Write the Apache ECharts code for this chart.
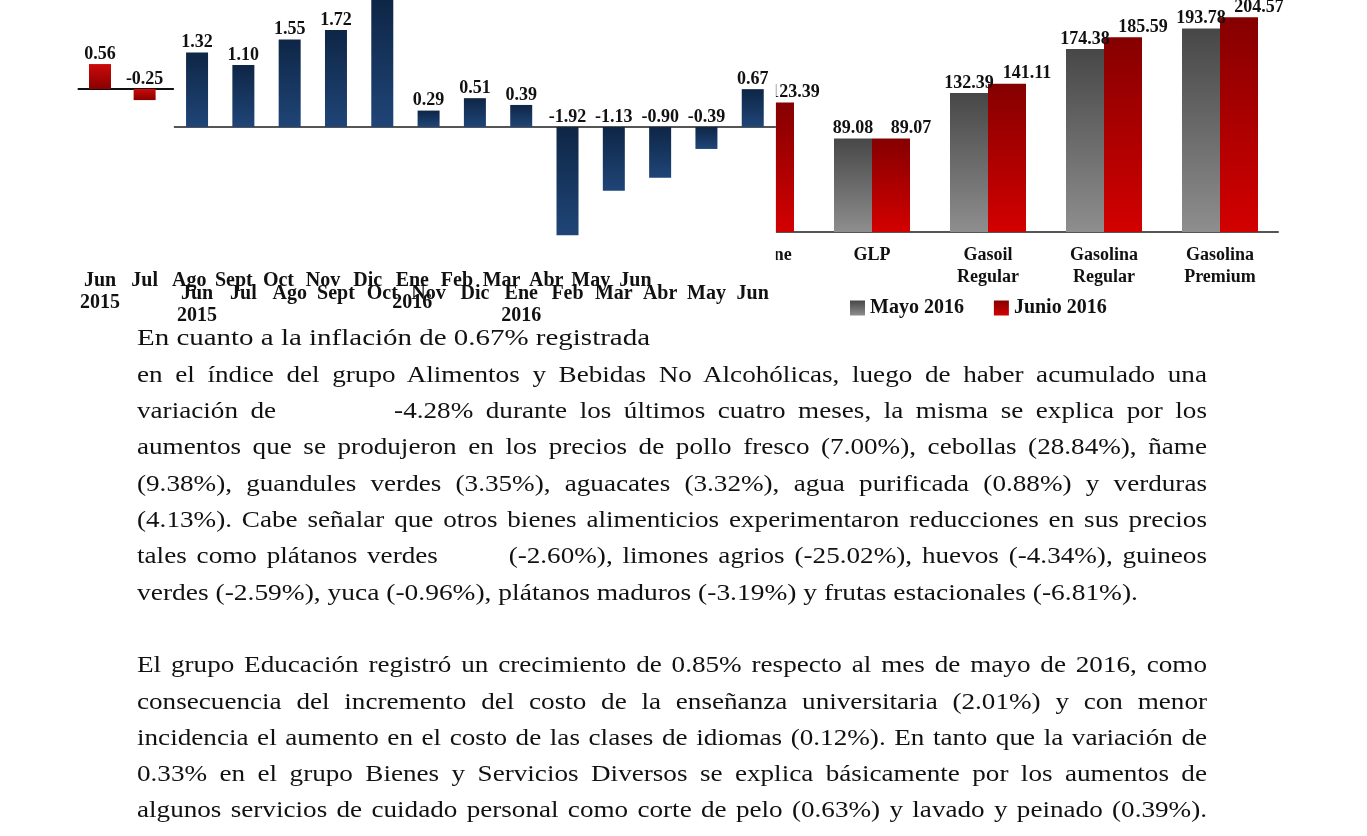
<!DOCTYPE html>
<html lang="es">
<head>
    <meta charset="UTF-8">
    <title>IPC junio 2016 - graficos</title>
    <script src="https://cdn.jsdelivr.net/npm/echarts@6/dist/echarts.min.js"></script>
    <style>
        html, body { margin: 0; padding: 0; background: #fff; }
        #main { width: 1367px; height: 836px; }
        .ln {
            position: absolute;
            left: 137px;
            white-space: nowrap;
            font-family: "Liberation Serif", "Times New Roman", serif;
            font-size: 23px;
            line-height: 26px;
            color: #111;
            transform-origin: left center;
        }
    </style>
</head>
<body>
    <div id="main"></div>
    <div id="texto"></div>
    <script>
        // meses (mismos para los dos graficos de variacion)
        var meses = ['Jun\n2015', 'Jul', 'Ago', 'Sept', 'Oct', 'Nov', 'Dic', 'Ene\n2016', 'Feb', 'Mar', 'Abr', 'May', 'Jun'];
        // grafico rojo de atras, solo se ven los dos primeros
        var variacionRoja = [0.56, -0.25, null, null, null, null, null, null, null, null, null, null, null];
        // alimentos y bebidas no alcoholicas (Oct sale cortado arriba, valor estimado)
        var variacionAlimentos = [1.32, 1.10, 1.55, 1.72, 2.40, 0.29, 0.51, 0.39, -1.92, -1.13, -0.90, -0.39, 0.67];

        // precios combustibles
        var combustibles = ['Kerosene', 'GLP', 'Gasoil\nRegular', 'Gasolina\nRegular', 'Gasolina\nPremium'];
        var mayo2016 = [null, 89.08, 132.39, 174.38, 193.78];
        var junio2016 = [123.39, 89.07, 141.11, 185.59, 204.57];

        var serif = '"Liberation Serif", "Times New Roman", serif';

        function grad(c1, c2) {
            return { type: 'linear', x: 0, y: 0, x2: 0, y2: 1, colorStops: [{ offset: 0, color: c1 }, { offset: 1, color: c2 }] };
        }
        function etiqueta(size) {
            return {
                show: true, position: 'top', distance: 1, color: '#111',
                fontFamily: serif, fontWeight: 'bold', fontSize: size,
                formatter: function (p) { return p.value.toFixed(2); }
            };
        }
        function base(color) {
            return { silent: true, z: 1, symbol: 'none', label: { show: false }, lineStyle: { color: color, width: 2, type: 'solid' }, data: [{ yAxis: 0 }] };
        }
        function ejeMeses(grid, margin, z) {
            return {
                type: 'category', gridIndex: grid, data: meses, z: z,
                axisLine: { show: false }, axisTick: { show: false },
                axisLabel: { interval: 0, margin: margin, color: '#111', fontFamily: serif, fontWeight: 'bold', fontSize: 20, lineHeight: 22 }
            };
        }

        var myChart = echarts.init(document.getElementById('main'));
        var option = {
            animation: false,
            grid: [
                { left: 77.7, top: 0, width: 580, height: 258, z: 1 },
                { left: 173.9, top: 0, width: 602, height: 268, z: 5, show: true, backgroundColor: '#fff', borderWidth: 0 },
                { left: 698, top: 1, width: 580, height: 231, z: 0 }
            ],
            legend: {
                left: 845, top: 293, itemWidth: 15, itemHeight: 15, itemGap: 30,
                icon: 'rect',
                textStyle: { color: '#111', fontFamily: serif, fontWeight: 'bold', fontSize: 20 },
                data: ['Mayo 2016', 'Junio 2016']
            },
            xAxis: [
                ejeMeses(0, 12, 1),
                ejeMeses(1, 15, 6),
                {
                    type: 'category', gridIndex: 2, data: combustibles, z: 1,
                    axisLine: { lineStyle: { color: '#555', width: 2 } }, axisTick: { show: false },
                    axisLabel: { interval: 0, margin: 12, color: '#111', fontFamily: serif, fontWeight: 'bold', fontSize: 18, lineHeight: 22 }
                }
            ],
            yAxis: [
                { type: 'value', gridIndex: 0, min: -3.8, max: 2, show: false },
                { type: 'value', gridIndex: 1, min: -2.5, max: 2.25, show: false },
                { type: 'value', gridIndex: 2, min: 0, max: 220, show: false }
            ],
            series: [
                {
                    name: 'Variacion', type: 'bar', xAxisIndex: 0, yAxisIndex: 0, z: 1,
                    data: variacionRoja, barWidth: 22,
                    itemStyle: { color: grad('#cc0a0a', '#8a0000') },
                    label: etiqueta(18),
                    markLine: base('#111')
                },
                {
                    name: 'Alimentos', type: 'bar', xAxisIndex: 1, yAxisIndex: 1, z: 6,
                    data: variacionAlimentos, barWidth: 22, clip: true,
                    itemStyle: { color: grad('#0e2646', '#1f4577') },
                    label: etiqueta(18),
                    markLine: Object.assign(base('#555'), { z: 6 })
                },
                {
                    name: 'Mayo 2016', type: 'bar', xAxisIndex: 2, yAxisIndex: 2, z: 1,
                    data: mayo2016, barWidth: 38, barGap: '0%',
                    itemStyle: { color: grad('#474747', '#8e8e8e') },
                    label: etiqueta(18)
                },
                {
                    name: 'Junio 2016', type: 'bar', xAxisIndex: 2, yAxisIndex: 2, z: 1,
                    data: junio2016, barWidth: 38, barGap: '0%',
                    itemStyle: { color: grad('#850000', '#d30000') },
                    label: Object.assign(etiqueta(18), { offset: [20, 0] })
                }
            ]
        };
        myChart.setOption(option);

        // texto del informe, una linea por fila como en la pagina
        var lineas = [
            { t: 'En cuanto a la inflación de 0.67% registrada', y: 338, w: 513, j: false },
            { t: 'en el índice del grupo Alimentos y Bebidas No Alcohólicas, luego de haber acumulado una', y: 375, w: 1070, j: true },
            { t: 'variación de|-4.28% durante los últimos cuatro meses, la misma se explica por los', y: 411, w: 1070, j: true, gap: 100 },
            { t: 'aumentos que se produjeron en los precios de pollo fresco (7.00%), cebollas (28.84%), ñame', y: 447, w: 1070, j: true },
            { t: '(9.38%), guandules verdes (3.35%), aguacates (3.32%), agua purificada (0.88%) y verduras', y: 484, w: 1070, j: true },
            { t: '(4.13%). Cabe señalar que otros bienes alimenticios experimentaron reducciones en sus precios', y: 520, w: 1070, j: true },
            { t: 'tales como plátanos verdes|(-2.60%), limones agrios (-25.02%), huevos (-4.34%), guineos', y: 556, w: 1070, j: true, gap: 60 },
            { t: 'verdes (-2.59%), yuca (-0.96%), plátanos maduros (-3.19%) y frutas estacionales (-6.81%).', y: 593, w: 1001, j: false },
            { t: 'El grupo Educación registró un crecimiento de 0.85% respecto al mes de mayo de 2016, como', y: 665, w: 1070, j: true },
            { t: 'consecuencia del incremento del costo de la enseñanza universitaria (2.01%) y con menor', y: 702, w: 1070, j: true },
            { t: 'incidencia el aumento en el costo de las clases de idiomas (0.12%). En tanto que la variación de', y: 738, w: 1070, j: true },
            { t: '0.33% en el grupo Bienes y Servicios Diversos se explica básicamente por los aumentos de', y: 774, w: 1070, j: true },
            { t: 'algunos servicios de cuidado personal como corte de pelo (0.63%) y lavado y peinado (0.39%).', y: 810, w: 1070, j: true }
        ];
        var estiramiento = 1.18; // el escaneo esta estirado a lo ancho
        var cont = document.getElementById('texto');
        lineas.forEach(function (l) {
            var d = document.createElement('div');
            d.className = 'ln';
            d.style.top = (l.y - 13) + 'px';
            var partes = l.t.split('|');
            d.textContent = partes[0];
            if (partes.length > 1) {
                var g = document.createElement('span');
                g.style.display = 'inline-block';
                g.style.width = l.gap + 'px';
                d.appendChild(g);
                d.appendChild(document.createTextNode(partes[1]));
            }
            cont.appendChild(d);
            var nat = d.getBoundingClientRect().width;
            var esp = (l.t.match(/ /g) || []).length;
            var k;
            if (!l.j) {
                k = l.w / nat;
            } else {
                k = Math.min(l.w / nat, estiramiento);
                var extra = l.w / k - nat;
                if (extra > 0 && esp > 0) d.style.wordSpacing = (extra / esp) + 'px';
            }
            d.style.transform = 'scaleX(' + k + ')';
        });
    </script>
</body>
</html>
